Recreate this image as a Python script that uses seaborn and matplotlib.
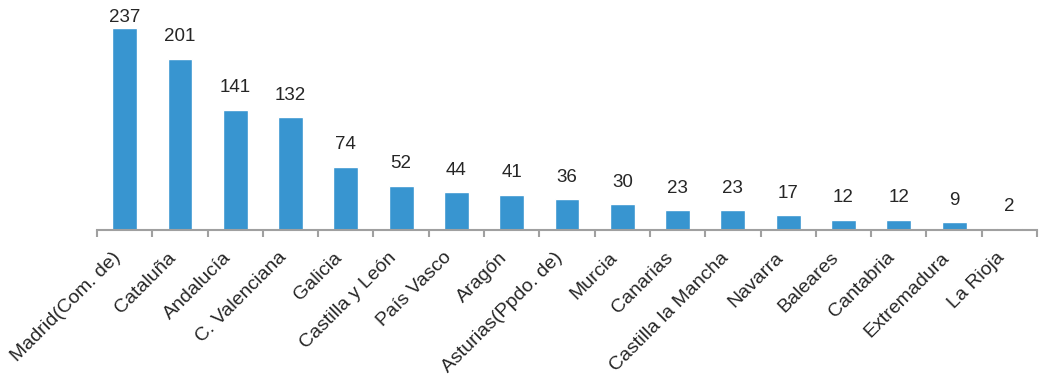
import numpy as np
import pandas as pd
import matplotlib
matplotlib.use("Agg")
import matplotlib.pyplot as plt
import matplotlib.transforms as mtransforms
import seaborn as sns

# datos
regiones = ["Madrid(Com. de)", "Cataluña", "Andalucía", "C. Valenciana", "Galicia",
            "Castilla y León", "País Vasco", "Aragón", "Asturias(Ppdo. de)", "Murcia",
            "Canarias", "Castilla la Mancha", "Navarra", "Baleares", "Cantabria",
            "Extremadura", "La Rioja"]
valores = [237, 201, 141, 132, 74, 52, 44, 41, 36, 30, 23, 23, 17, 12, 12, 9, 2]

df = pd.DataFrame({"region": regiones, "valor": valores})

sns.set_theme(style="white")
plt.rcParams["font.family"] = ["Liberation Sans", "DejaVu Sans"]

fig = plt.figure(figsize=(10.51, 3.83), dpi=100)
ax = fig.add_axes([0.0923, 0.3995, 0.8944, 0.59])

sns.barplot(data=df, x="region", y="valor", color="#3895D0", width=0.45,
            saturation=1, ax=ax)

# etiquetas de valor (la primera queda pegada al borde superior)
for i, v in enumerate(valores):
    ax.text(i, min(v + 16, 239), str(v), ha="center", va="bottom",
            fontsize=13.5, color="#262626")

ax.set_ylim(0, 265)
ax.set_xlim(-0.5, len(regiones) - 0.5)
ax.set_xlabel("")
ax.set_ylabel("")
ax.set_yticks([])

for s in ["top", "right", "left"]:
    ax.spines[s].set_visible(False)
ax.spines["bottom"].set_color("#a0a0a0")
ax.spines["bottom"].set_linewidth(1.5)

# marcas entre categorias
ax.set_xticks(np.arange(-0.5, len(regiones)), minor=True)
ax.tick_params(axis="x", which="minor", length=5, width=1.5, color="#a0a0a0", bottom=True)
ax.tick_params(axis="x", which="major", length=0, pad=8)
ax.set_xticks(range(len(regiones)))
ax.set_xticklabels(regiones, rotation=45, ha="right", va="top", rotation_mode="anchor",
                   fontsize=14, color="#262626")

desplaz = mtransforms.ScaledTranslation(-13 / 100, -8 / 100, fig.dpi_scale_trans)
for lbl in ax.get_xticklabels():
    lbl.set_transform(lbl.get_transform() + desplaz)

fig.savefig("out.png", dpi=100)
